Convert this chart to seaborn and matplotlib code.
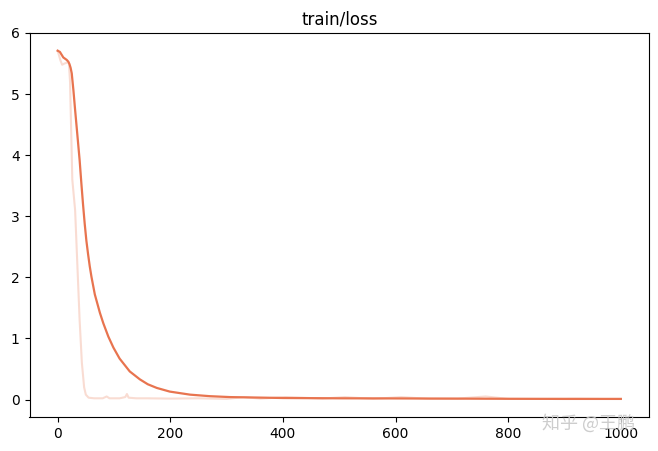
import matplotlib
matplotlib.use("Agg")
import matplotlib.pyplot as plt
import seaborn as sns
import pandas as pd

# Raw loss (faint curve)
raw_step = [0, 5, 8, 12, 18, 20, 22, 24, 26, 28, 31, 35, 39, 43, 47, 50, 55, 65, 80, 87,
            92, 110, 120, 123, 126, 140, 160, 200, 250, 300, 330, 360, 405, 435, 470,
            510, 560, 610, 660, 710, 760, 800, 860, 920, 970, 1000]
raw_loss = [5.71, 5.55, 5.48, 5.50, 5.52, 5.50, 5.20, 4.40, 3.60, 3.40, 3.10, 2.20, 1.30,
            0.60, 0.20, 0.08, 0.03, 0.02, 0.02, 0.05, 0.02, 0.02, 0.04, 0.09, 0.03, 0.02,
            0.02, 0.015, 0.02, 0.01, 0.04, 0.015, 0.04, 0.03, 0.015, 0.04, 0.01, 0.04,
            0.01, 0.015, 0.05, 0.01, 0.01, 0.015, 0.01, 0.01]

# Smoothed loss (solid curve)
smooth_step = [0, 4, 10, 16, 19, 21, 23, 25, 28, 31, 35, 39, 42, 45, 48, 51, 54, 57, 60,
               66, 75, 81, 90, 99, 110, 128, 146, 160, 176, 199, 235, 270, 306, 400, 500,
               600, 700, 800, 900, 1000]
smooth_loss = [5.71, 5.69, 5.60, 5.56, 5.53, 5.49, 5.43, 5.34, 5.06, 4.74, 4.33, 3.92,
               3.55, 3.20, 2.88, 2.60, 2.38, 2.18, 2.01, 1.72, 1.42, 1.25, 1.03, 0.85,
               0.67, 0.46, 0.33, 0.25, 0.19, 0.13, 0.08, 0.055, 0.04, 0.025, 0.02, 0.018,
               0.015, 0.012, 0.01, 0.01]

raw_df = pd.DataFrame({"step": raw_step, "loss": raw_loss})
smooth_df = pd.DataFrame({"step": smooth_step, "loss": smooth_loss})

color = "#e8744f"

fig = plt.figure(figsize=(6.58, 4.51), dpi=100)
ax = fig.add_axes([29.5 / 658, 1 - 417 / 451, (649 - 29.5) / 658, (417 - 33) / 451])

sns.lineplot(data=raw_df, x="step", y="loss", ax=ax, color=color, alpha=0.25,
             linewidth=1.5, estimator=None, sort=False)
sns.lineplot(data=smooth_df, x="step", y="loss", ax=ax, color=color,
             linewidth=1.6, estimator=None, sort=False)

ax.set_xlim(-50, 1050)
ax.set_ylim(-0.286, 6.0)
ax.set_xticks([0, 200, 400, 600, 800, 1000])
ax.set_yticks([0, 1, 2, 3, 4, 5, 6])
ax.set_xlabel("")
ax.set_ylabel("")
ax.set_title("train/loss", fontsize=12)

fig.text(0.895, 0.062, "知乎 @王鹏", family=["Noto Sans CJK SC", "DejaVu Sans"],
         fontsize=13, color="#c8c8c8", ha="center", va="center", alpha=0.9)

fig.savefig("out.png", dpi=100)
